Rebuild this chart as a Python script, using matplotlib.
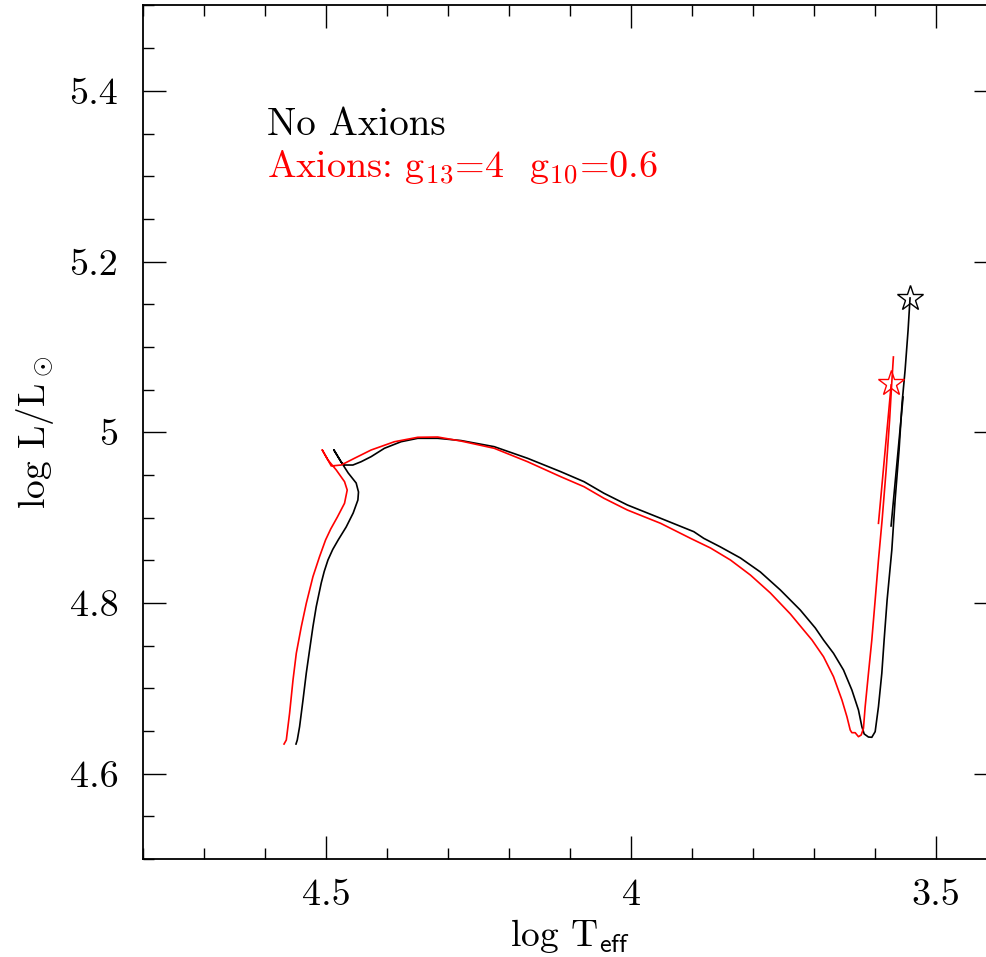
import matplotlib
matplotlib.use('Agg')
import matplotlib.pyplot as plt
from matplotlib.ticker import MultipleLocator, FuncFormatter

plt.rcParams['font.family'] = 'serif'
plt.rcParams['font.serif'] = ['cmr10', 'DejaVu Serif']
plt.rcParams['mathtext.fontset'] = 'cm'
plt.rcParams['axes.unicode_minus'] = False

# track without axions (log Teff, log L)
std_logt = [4.5496, 4.5475, 4.5437, 4.5381, 4.5327, 4.5273, 4.5218, 4.5164, 4.5082, 4.5033,
            4.4972, 4.4894, 4.4804, 4.4673, 4.4558, 4.4481, 4.4471, 4.4509, 4.4640, 4.4755,
            4.4874, 4.4755, 4.4700, 4.4563, 4.4427, 4.4264, 4.4046, 4.3773, 4.3499, 4.3172,
            4.2791, 4.2245, 4.1699, 4.1154, 4.0773, 4.0445, 4.0062, 3.9517, 3.8972, 3.8809,
            3.8535, 3.8208, 3.7881, 3.7553, 3.7226, 3.6980, 3.6845, 3.6681, 3.6517, 3.6380,
            3.6272, 3.6216, 3.6178, 3.6108, 3.6053, 3.5998, 3.5944, 3.5889, 3.5851, 3.5802,
            3.5725, 3.5671, 3.5606, 3.5557, 3.5507, 3.5458, 3.5426]
std_logl = [4.6347, 4.6394, 4.6550, 4.6863, 4.7179, 4.7449, 4.7722, 4.7956, 4.8234, 4.8369,
            4.8503, 4.8626, 4.8738, 4.8890, 4.9054, 4.9206, 4.9300, 4.9405, 4.9523, 4.9651,
            4.9792, 4.9651, 4.9616, 4.9616, 4.9655, 4.9714, 4.9812, 4.9889, 4.9929, 4.9929,
            4.9903, 4.9831, 4.9695, 4.9538, 4.9421, 4.9285, 4.9148, 4.8992, 4.8835, 4.8757,
            4.8656, 4.8527, 4.8363, 4.8152, 4.7917, 4.7707, 4.7566, 4.7410, 4.7214, 4.6980,
            4.6746, 4.6550, 4.6465, 4.6429, 4.6426, 4.6492, 4.6784, 4.7176, 4.7566, 4.8035,
            4.8620, 4.9206, 4.9792, 5.0343, 5.0729, 5.1198, 5.1573]
std_tail_logt = [3.5737, 3.5540]
std_tail_logl = [4.8902, 5.0413]
std_end = (3.5426, 5.1569)

# track with axions
ax_logt = [4.5692, 4.5655, 4.5601, 4.5545, 4.5491, 4.5409, 4.5327, 4.5218, 4.5110, 4.5011,
           4.4926, 4.4817, 4.4700, 4.4656, 4.4700, 4.4836, 4.4972, 4.5065, 4.4972, 4.4918,
           4.4755, 4.4537, 4.4264, 4.3882, 4.3499, 4.3172, 4.2791, 4.2245, 4.1699, 4.1154,
           4.0773, 4.0445, 4.0062, 3.9517, 3.9026, 3.8699, 3.8371, 3.8044, 3.7717, 3.7389,
           3.7144, 3.7034, 3.6845, 3.6681, 3.6543, 3.6461, 3.6407, 3.6380, 3.6326, 3.6272,
           3.6227, 3.6190, 3.6162, 3.6108, 3.6053, 3.5998, 3.5944, 3.5884, 3.5818, 3.5761,
           3.5728, 3.5699]
ax_logl = [4.6347, 4.6394, 4.6707, 4.7097, 4.7410, 4.7722, 4.7996, 4.8308, 4.8542, 4.8738,
           4.8867, 4.9007, 4.9168, 4.9323, 4.9421, 4.9558, 4.9675, 4.9792, 4.9675, 4.9605,
           4.9616, 4.9695, 4.9792, 4.9889, 4.9941, 4.9944, 4.9897, 4.9812, 4.9655, 4.9479,
           4.9362, 4.9226, 4.9089, 4.8933, 4.8757, 4.8644, 4.8503, 4.8327, 4.8117, 4.7871,
           4.7660, 4.7566, 4.7370, 4.7136, 4.6863, 4.6667, 4.6511, 4.6480, 4.6480, 4.6433,
           4.6453, 4.6531, 4.6784, 4.7176, 4.7566, 4.8035, 4.8503, 4.8972, 4.9558, 5.0144,
           5.0554, 5.0882]
ax_tail_logt = [3.5944, 3.5736]
ax_tail_logl = [4.8933, 5.0554]
ax_end = (3.5733, 5.0574)

fig = plt.figure(figsize=(9.87, 9.57), dpi=100)
ax = fig.add_axes([143.3 / 987, 98 / 957, 853.7 / 987, 853.5 / 957])

ax.plot(std_logt, std_logl, color='black', lw=1.2)
ax.plot(std_tail_logt, std_tail_logl, color='black', lw=1.2)
ax.plot(ax_logt, ax_logl, color='red', lw=1.2)
ax.plot(ax_tail_logt, ax_tail_logl, color='red', lw=1.2)
ax.plot([std_end[0]], [std_end[1]], marker='*', ms=19, mfc='none', mec='black', mew=1.0)
ax.plot([ax_end[0]], [ax_end[1]], marker='*', ms=19, mfc='none', mec='red', mew=1.0)

ax.set_xlim(4.8, 3.4)
ax.set_ylim(4.5, 5.5)

ax.xaxis.set_major_locator(MultipleLocator(0.5))
ax.xaxis.set_minor_locator(MultipleLocator(0.1))
ax.yaxis.set_major_locator(MultipleLocator(0.2))
ax.yaxis.set_minor_locator(MultipleLocator(0.05))
fmt = FuncFormatter(lambda v, p: '%g' % round(v, 2))
ax.xaxis.set_major_formatter(fmt)
ax.yaxis.set_major_formatter(fmt)

ax.tick_params(which='both', direction='in', top=True, right=True, width=1.0, labelsize=27.5)
ax.tick_params(which='major', length=16.5)
ax.tick_params(which='minor', length=8)
ax.tick_params(axis='x', which='major', pad=14)
ax.tick_params(axis='y', which='major', pad=18)
for s in ax.spines.values():
    s.set_linewidth(1.3)

ax.set_xlabel(r'log T$_{\mathsf{eff}}$', fontsize=27, labelpad=4)
ax.set_ylabel(r'log L/L$_\odot$', fontsize=27, labelpad=10)

ax.text(4.5966, 5.348, 'No Axions', color='black', fontsize=28, va='baseline')
ax.text(4.5966, 5.299, r'Axions: g$_{13}$=4  g$_{10}$=0.6', color='red', fontsize=27.5, va='baseline')

fig.savefig('out.png', dpi=100)
